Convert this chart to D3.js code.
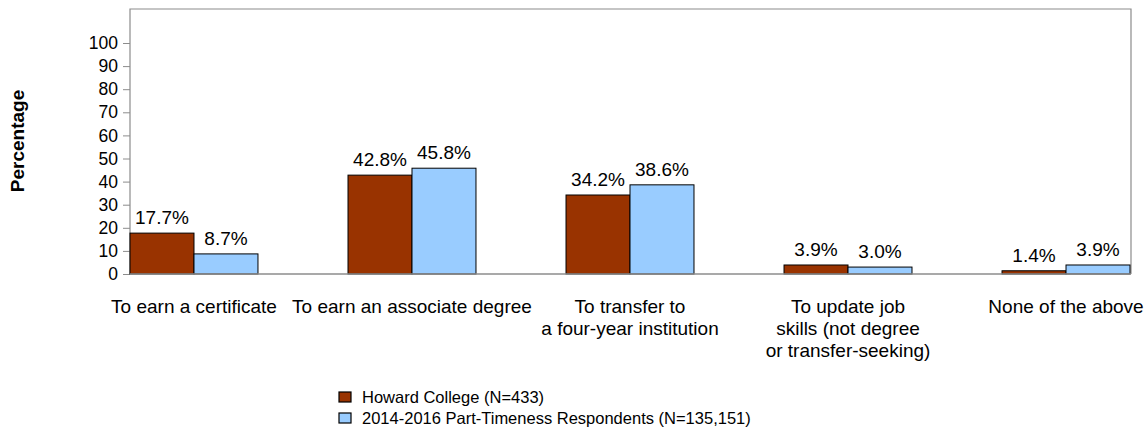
<!DOCTYPE html>
<html><head><meta charset="utf-8">
<script src="https://cdn.jsdelivr.net/npm/d3@7"></script>
<style>body{margin:0;background:#fff}svg{display:block;font-family:"Liberation Sans",Arial,sans-serif}</style>
</head><body>
<svg id="c" width="1147" height="431"></svg>
<script>
const categories = [
  ["To earn a certificate"],
  ["To earn an associate degree"],
  ["To transfer to", "a four-year institution"],
  ["To update job", "skills (not degree", "or transfer-seeking)"],
  ["None of the above"]
];
const seriesNames = ["Howard College (N=433)", "2014-2016 Part-Timeness Respondents (N=135,151)"];
const howard = [17.7, 42.8, 34.2, 3.9, 1.4];
const national = [8.7, 45.8, 38.6, 3.0, 3.9];
const yTicks = [0, 10, 20, 30, 40, 50, 60, 70, 80, 90, 100];
const colors = ["#993300", "#99CCFF"];

const svg = d3.select("#c");
const mLeft = 130, mRight = 1131, mTop = 9, mBottom = 274;
const catKeys = categories.map((c, i) => i);
const x0 = d3.scaleBand().domain(catKeys).range([mLeft, 1130]).paddingInner(0.413).paddingOuter(0);
const x1 = d3.scaleBand().domain([0, 1]).range([0, x0.bandwidth()]);
const y = d3.scaleLinear().domain([0, 100]).range([mBottom, 43]);

// frame
svg.append("path").attr("d", `M${mLeft},${mBottom}V${mTop}H${mRight}V${mBottom}`)
  .attr("fill", "none").attr("stroke", "#8c8c8c").attr("stroke-width", 1.2);

// y axis
const ya = svg.append("g").attr("transform", `translate(${mLeft},0)`)
  .call(d3.axisLeft(y).tickValues(yTicks).tickSize(7).tickPadding(5).tickFormat(d3.format("d")));
ya.select(".domain").remove();
ya.selectAll("line").attr("stroke", "#8c8c8c");
ya.selectAll("text").attr("font-size", 17.5).attr("fill", "#000").attr("font-family", "Liberation Sans, Arial, sans-serif");

// y label
svg.append("text").attr("transform", "translate(24,141) rotate(-90)")
  .attr("text-anchor", "middle").attr("font-size", 19).attr("font-weight", "bold").text("Percentage");

const series = [howard, national];
series.forEach((vals, s) => {
  const g = svg.append("g");
  g.selectAll("rect").data(vals).join("rect")
    .attr("x", (d, i) => x0(i) + x1(s))
    .attr("y", d => y(d))
    .attr("width", x1.bandwidth())
    .attr("height", d => mBottom - y(d))
    .attr("fill", colors[s]).attr("stroke", "#000").attr("stroke-width", 1);
  g.selectAll("text").data(vals).join("text")
    .attr("x", (d, i) => x0(i) + x1(s) + x1.bandwidth() / 2)
    .attr("y", d => y(d) - 9)
    .attr("text-anchor", "middle").attr("font-size", 19).text(d => d.toFixed(1) + "%");
});

// bottom axis line
svg.append("line").attr("x1", mLeft).attr("x2", mRight).attr("y1", mBottom).attr("y2", mBottom)
  .attr("stroke", "#8c8c8c").attr("stroke-width", 1.5);

// category labels
const xa = svg.append("g");
categories.forEach((lines, i) => {
  const t = xa.append("text").attr("text-anchor", "middle").attr("font-size", 19)
    .attr("x", x0(i) + x0.bandwidth() / 2).attr("y", 313);
  lines.forEach((ln, j) => t.append("tspan").attr("x", x0(i) + x0.bandwidth() / 2).attr("dy", j ? 22 : 0).text(ln));
});

// legend
const lg = svg.append("g").attr("transform", "translate(339,392)");
seriesNames.forEach((n, s) => {
  lg.append("rect").attr("x", 0).attr("y", s * 21).attr("width", 12).attr("height", 10)
    .attr("fill", colors[s]).attr("stroke", "#000").attr("stroke-width", 1.2);
  lg.append("text").attr("x", 23).attr("y", s * 21 + 11).attr("font-size", 16.5).text(n);
});
</script>
</body></html>
